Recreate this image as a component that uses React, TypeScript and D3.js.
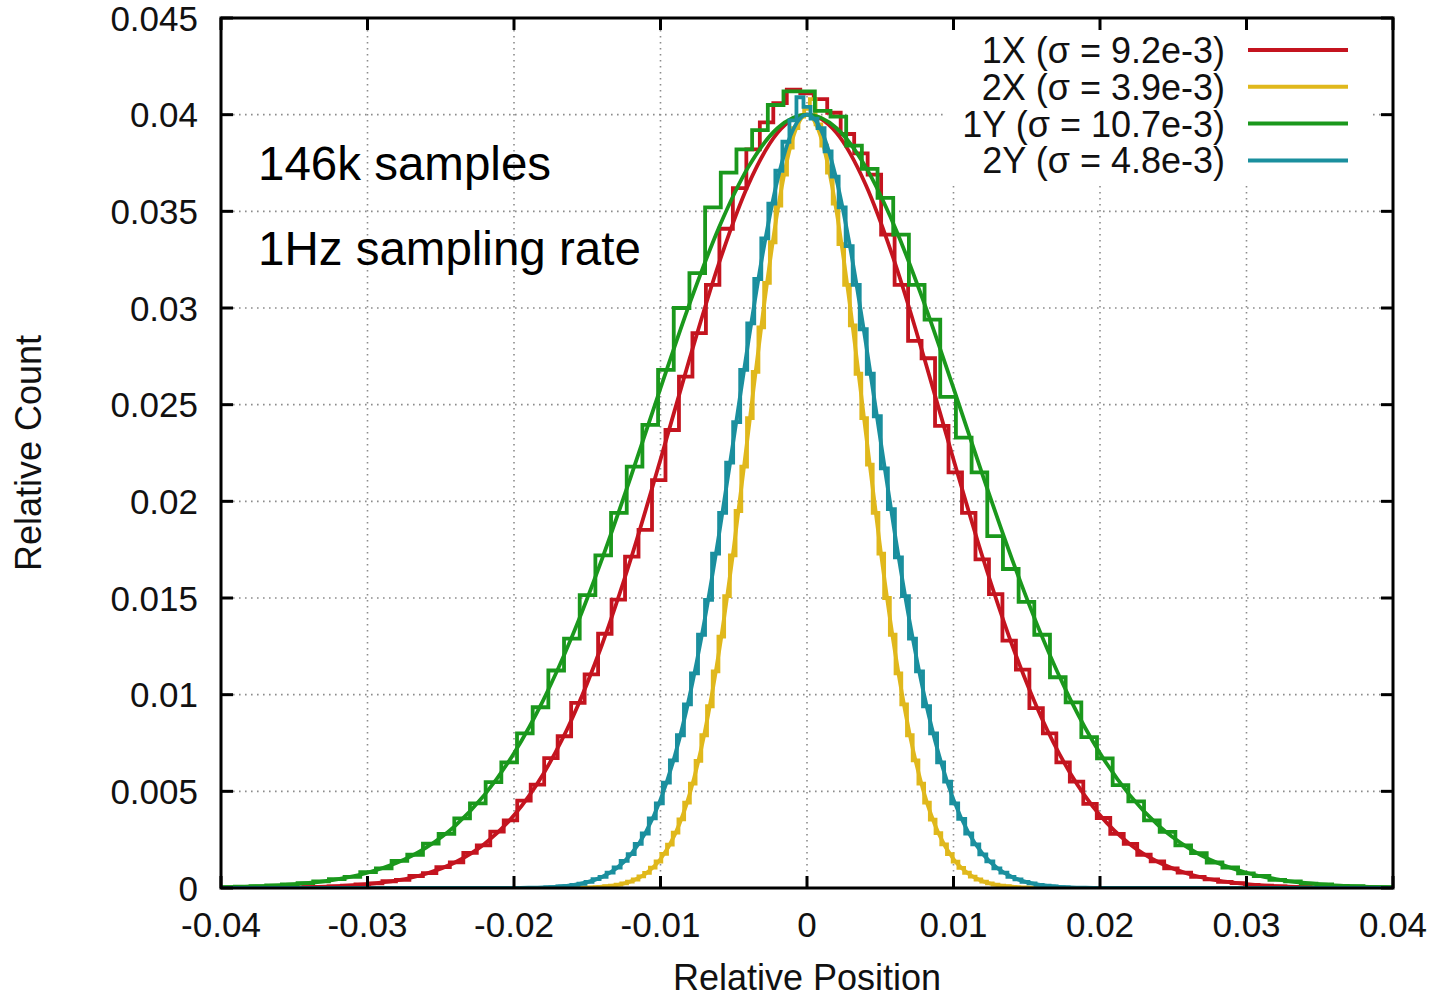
import React from "react";
import * as d3 from "d3";

const W = 1440;
const H = 998;
const PLOT = { left: 221, right: 1393, top: 18, bottom: 888 };

const X_TICKS = [-0.04, -0.03, -0.02, -0.01, 0, 0.01, 0.02, 0.03, 0.04];
const X_TICK_LABELS = ["-0.04", "-0.03", "-0.02", "-0.01", "0", "0.01", "0.02", "0.03", "0.04"];
const Y_TICKS = [0, 0.005, 0.01, 0.015, 0.02, 0.025, 0.03, 0.035, 0.04, 0.045];
const Y_TICK_LABELS = ["0", "0.005", "0.01", "0.015", "0.02", "0.025", "0.03", "0.035", "0.04", "0.045"];

const SERIES_NAMES = ["1X (σ = 9.2e-3)", "2X (σ = 3.9e-3)", "1Y (σ = 10.7e-3)", "2Y (σ = 4.8e-3)"];
const ANNOTATIONS = ["146k samples", "1Hz sampling rate"];

// histogram bin widths; bins are centred on 0, first bin index below
const BIN_WIDTHS = [0.00092, 0.00039, 0.00107, 0.00048];
const FIRST_BIN = -37;

const HIST_1X = [
  0.00004, 0.00006, 0.00008, 0.00012, 0.00018, 0.00024, 0.00035, 0.00042, 0.00062, 0.00077,
  0.00108, 0.00133, 0.00182, 0.0022, 0.00292, 0.0035, 0.00452, 0.00535, 0.00672, 0.00785,
  0.00958, 0.01105, 0.01315, 0.01492, 0.01714, 0.01852, 0.0211, 0.02369, 0.02645, 0.0287,
  0.0312, 0.0341, 0.0362, 0.0382, 0.0396, 0.0406, 0.0413,
  0.0411,
  0.0408, 0.0401, 0.039, 0.038, 0.0369, 0.0338, 0.0312, 0.0283, 0.0274, 0.0239,
  0.0215, 0.0194, 0.017, 0.0152, 0.0128, 0.0113, 0.0093, 0.008, 0.0065, 0.0055,
  0.00435, 0.00362, 0.0028, 0.00228, 0.00172, 0.00138, 0.00102, 0.0008, 0.00058, 0.00045,
  0.00032, 0.00025, 0.00016, 0.00012, 0.00008, 0.00006, 0.00004,
];
const HIST_2X = [
  0.00003, 0.00006, 0.00009, 0.00012, 0.00017, 0.00024, 0.00033, 0.00044, 0.0006, 0.00078,
  0.00105, 0.00137, 0.00176, 0.00224, 0.00286, 0.00355, 0.00442, 0.0054, 0.00658, 0.0079,
  0.0094, 0.0112, 0.013, 0.0151, 0.0172, 0.0195, 0.0218, 0.0243, 0.0267, 0.029,
  0.0313, 0.0334, 0.0353, 0.0369, 0.0383, 0.0393, 0.0399,
  0.0403,
  0.0408, 0.0395, 0.0384, 0.037, 0.0354, 0.0333, 0.0312, 0.0291, 0.0266, 0.0243,
  0.0219, 0.0194, 0.0173, 0.015, 0.0131, 0.0111, 0.0095, 0.0079, 0.0066, 0.0054,
  0.00442, 0.00354, 0.00284, 0.00226, 0.00175, 0.00136, 0.00104, 0.00079, 0.00059, 0.00044,
  0.00033, 0.00024, 0.00017, 0.00012, 0.00009, 0.00005, 0.00003,
];
const HIST_1Y = [
  0.00004, 0.00007, 0.00009, 0.00013, 0.00018, 0.00025, 0.00034, 0.00046, 0.00058, 0.00082,
  0.00101, 0.0014, 0.00172, 0.0023, 0.0028, 0.0036, 0.00438, 0.00548, 0.0065, 0.008,
  0.00935, 0.01125, 0.0129, 0.01515, 0.0172, 0.0194, 0.0218, 0.02395, 0.0268, 0.03,
  0.0318, 0.0352, 0.037, 0.0382, 0.0392, 0.0405, 0.0412,
  0.0412,
  0.0402, 0.0399, 0.0384, 0.0372, 0.0357, 0.0338, 0.0312, 0.0294, 0.0254, 0.0233,
  0.0215, 0.0182, 0.0165, 0.0148, 0.0131, 0.0109, 0.0096, 0.0078, 0.0067, 0.00532,
  0.00448, 0.0035, 0.0029, 0.0022, 0.0018, 0.00132, 0.00106, 0.00076, 0.00062, 0.00042,
  0.00034, 0.00023, 0.00018, 0.00011, 0.00009, 0.00005, 0.00004,
];
const HIST_2Y = [
  0.00003, 0.00005, 0.00008, 0.0001, 0.00016, 0.00022, 0.00032, 0.00046, 0.00058, 0.0008,
  0.00106, 0.0014, 0.00175, 0.00228, 0.00282, 0.0036, 0.00438, 0.00545, 0.0066, 0.0079,
  0.0095, 0.0111, 0.0131, 0.0149, 0.0173, 0.0194, 0.022, 0.0241, 0.0268, 0.0292,
  0.0315, 0.0336, 0.0354, 0.0371, 0.0386, 0.0397, 0.0409,
  0.0404,
  0.0398, 0.0393, 0.0381, 0.0368, 0.0352, 0.0332, 0.0312, 0.0289, 0.0266, 0.0244,
  0.0217, 0.0196, 0.0171, 0.0151, 0.0129, 0.0112, 0.0094, 0.008, 0.0065, 0.0055,
  0.00438, 0.00358, 0.00282, 0.00226, 0.00174, 0.00138, 0.00102, 0.0008, 0.00058, 0.00045,
  0.00032, 0.00024, 0.00016, 0.00012, 0.00008, 0.00005, 0.00003,
];

// fitted curves, sampled
const FIT_X_WIDE = [
  -0.04, -0.038, -0.036, -0.034, -0.032, -0.03, -0.028, -0.026, -0.024, -0.022,
  -0.02, -0.018, -0.016, -0.014, -0.012, -0.01, -0.008, -0.006, -0.004, -0.002,
  0,
  0.002, 0.004, 0.006, 0.008, 0.01, 0.012, 0.014, 0.016, 0.018, 0.02,
  0.022, 0.024, 0.026, 0.028, 0.03, 0.032, 0.034, 0.036, 0.038, 0.04,
];
const FIT_1X = [
  0.000003, 0.000008, 0.000019, 0.000043, 0.000094, 0.0002, 0.00039, 0.00074, 0.00133, 0.00229,
  0.00376, 0.0059, 0.00882, 0.01257, 0.01708, 0.02216, 0.02741, 0.03234, 0.03639, 0.03907,
  0.04,
  0.03907, 0.03639, 0.03234, 0.02741, 0.02216, 0.01708, 0.01257, 0.00882, 0.0059, 0.00376,
  0.00229, 0.00133, 0.00074, 0.00039, 0.0002, 0.000094, 0.000043, 0.000019, 0.000008, 0.000003,
];
const FIT_1Y = [
  0.000037, 0.000073, 0.00014, 0.00026, 0.00046, 0.00079, 0.0013, 0.00209, 0.00323, 0.00483,
  0.00697, 0.00972, 0.01308, 0.017, 0.02133, 0.02585, 0.03025, 0.03418, 0.0373, 0.03931,
  0.04,
  0.03931, 0.0373, 0.03418, 0.03025, 0.02585, 0.02133, 0.017, 0.01308, 0.00972, 0.00697,
  0.00483, 0.00323, 0.00209, 0.0013, 0.00079, 0.00046, 0.00026, 0.00014, 0.000073, 0.000037,
];
const FIT_X_NARROW = [
  -0.04,
  -0.02, -0.019, -0.018, -0.017, -0.016, -0.015, -0.014, -0.013, -0.012, -0.011,
  -0.01, -0.009, -0.008, -0.007, -0.006, -0.005, -0.004, -0.003, -0.002, -0.001,
  0,
  0.001, 0.002, 0.003, 0.004, 0.005, 0.006, 0.007, 0.008, 0.009, 0.01,
  0.011, 0.012, 0.013, 0.014, 0.015, 0.016, 0.017, 0.018, 0.019, 0.02,
  0.04,
];
const FIT_2X = [
  0,
  0, 0, 0, 0.000001, 0.000009, 0.000025, 0.000064, 0.00015, 0.00035, 0.00075,
  0.00149, 0.00279, 0.00488, 0.00799, 0.01225, 0.01759, 0.02364, 0.02976, 0.03507, 0.03871,
  0.04,
  0.03871, 0.03507, 0.02976, 0.02364, 0.01759, 0.01225, 0.00799, 0.00488, 0.00279, 0.00149,
  0.00075, 0.00035, 0.00015, 0.000064, 0.000025, 0.000009, 0.000001, 0, 0, 0,
  0,
];
const FIT_2Y = [
  0,
  0.000007, 0.000016, 0.000035, 0.000075, 0.00015, 0.0003, 0.00057, 0.00102, 0.00176, 0.00289,
  0.00457, 0.0069, 0.00997, 0.01381, 0.01831, 0.02325, 0.02827, 0.0329, 0.03667, 0.03914,
  0.04,
  0.03914, 0.03667, 0.0329, 0.02827, 0.02325, 0.01831, 0.01381, 0.00997, 0.0069, 0.00457,
  0.00289, 0.00176, 0.00102, 0.00057, 0.0003, 0.00015, 0.000075, 0.000035, 0.000016, 0.000007,
  0,
];

const HISTS = [HIST_1X, HIST_2X, HIST_1Y, HIST_2Y];
const FITS = [
  { xs: FIT_X_WIDE, ys: FIT_1X },
  { xs: FIT_X_NARROW, ys: FIT_2X },
  { xs: FIT_X_WIDE, ys: FIT_1Y },
  { xs: FIT_X_NARROW, ys: FIT_2Y },
];

const COLORS = ["#c4141f", "#e0b81c", "#1a981c", "#1a8f9e"];
const FONT = "'Liberation Sans', Arial, Helvetica, sans-serif";

export default function App() {
  const x = d3.scaleLinear().domain([-0.04, 0.04]).range([PLOT.left, PLOT.right]);
  const y = d3.scaleLinear().domain([0, 0.045]).range([PLOT.bottom, PLOT.top]);

  const stepLine = d3
    .line<[number, number]>()
    .x((d) => x(d[0]))
    .y((d) => y(d[1]))
    .curve(d3.curveStepAfter);
  const smoothLine = d3
    .line<[number, number]>()
    .x((d) => x(d[0]))
    .y((d) => y(d[1]))
    .curve(d3.curveMonotoneX);

  const histPath = (vals: number[], w: number) => {
    const pts: [number, number][] = vals.map((v, i) => [(FIRST_BIN + i - 0.5) * w, v]);
    pts.push([(FIRST_BIN + vals.length - 0.5) * w, vals[vals.length - 1]]);
    return stepLine(pts) || "";
  };
  const fitPath = (xs: number[], ys: number[]) =>
    smoothLine(xs.map((v, i) => [v, ys[i]] as [number, number])) || "";

  const tickLen = 12;
  const legendX = 1225;
  const legendY0 = 50;
  const legendDy = 36.8;

  return (
    <svg
      width={W}
      height={H}
      viewBox={`0 0 ${W} ${H}`}
      style={{ position: "absolute", left: 0, top: 0, background: "#fff" }}
      fontFamily={FONT}
    >
      <defs>
        <clipPath id="plotClip">
          <rect x={PLOT.left} y={PLOT.top} width={PLOT.right - PLOT.left} height={PLOT.bottom - PLOT.top} />
        </clipPath>
      </defs>
      <rect x={0} y={0} width={W} height={H} fill="#fff" />

      {/* grid */}
      <g stroke="#8c8c8c" strokeWidth={1.6} strokeDasharray="1.6,4.4">
        {X_TICKS.slice(1, -1).map((t) => (
          <line key={"gx" + t} x1={x(t)} x2={x(t)} y1={PLOT.top} y2={PLOT.bottom} />
        ))}
        {Y_TICKS.slice(1, -1).map((t) => (
          <line key={"gy" + t} x1={PLOT.left} x2={PLOT.right} y1={y(t)} y2={y(t)} />
        ))}
      </g>

      {/* key background */}
      <rect x={945} y={27} width={427} height={155} fill="#fff" />

      {/* data */}
      <g clipPath="url(#plotClip)" fill="none" strokeLinejoin="miter">
        {HISTS.map((h, i) => (
          <g key={"s" + i}>
            <path d={histPath(h, BIN_WIDTHS[i])} stroke={COLORS[i]} strokeWidth={3.8} />
            <path d={fitPath(FITS[i].xs, FITS[i].ys)} stroke={COLORS[i]} strokeWidth={3.8} />
          </g>
        ))}
      </g>

      {/* border */}
      <rect
        x={PLOT.left}
        y={PLOT.top}
        width={PLOT.right - PLOT.left}
        height={PLOT.bottom - PLOT.top}
        fill="none"
        stroke="#000"
        strokeWidth={3}
      />

      {/* ticks */}
      <g stroke="#000" strokeWidth={3}>
        {X_TICKS.map((t) => (
          <g key={"tx" + t}>
            <line x1={x(t)} x2={x(t)} y1={PLOT.bottom} y2={PLOT.bottom - tickLen} />
            <line x1={x(t)} x2={x(t)} y1={PLOT.top} y2={PLOT.top + tickLen} />
          </g>
        ))}
        {Y_TICKS.map((t) => (
          <g key={"ty" + t}>
            <line x1={PLOT.left} x2={PLOT.left + tickLen} y1={y(t)} y2={y(t)} />
            <line x1={PLOT.right} x2={PLOT.right - tickLen} y1={y(t)} y2={y(t)} />
          </g>
        ))}
      </g>

      {/* tick labels */}
      <g fontSize={35} fill="#111">
        {X_TICKS.map((t, i) => (
          <text key={"lx" + t} x={x(t)} y={937} textAnchor="middle">
            {X_TICK_LABELS[i]}
          </text>
        ))}
        {Y_TICKS.map((t, i) => (
          <text key={"ly" + t} x={198} y={y(t)} dy="0.36em" textAnchor="end">
            {Y_TICK_LABELS[i]}
          </text>
        ))}
      </g>

      {/* axis titles */}
      <text x={807} y={990} fontSize={36} textAnchor="middle" fill="#111">
        Relative Position
      </text>
      <text
        transform={`translate(41,453) rotate(-90)`}
        fontSize={36}
        textAnchor="middle"
        fill="#111"
      >
        Relative Count
      </text>

      {/* legend */}
      <g fontSize={36} fill="#111">
        {SERIES_NAMES.map((n, i) => (
          <g key={"lg" + i}>
            <text x={legendX} y={legendY0 + i * legendDy} dy="0.36em" textAnchor="end">
              {n}
            </text>
            <line
              x1={1248}
              x2={1348}
              y1={legendY0 + i * legendDy}
              y2={legendY0 + i * legendDy}
              stroke={COLORS[i]}
              strokeWidth={4}
            />
          </g>
        ))}
      </g>

      {/* annotations */}
      <g fontSize={47.5} fill="#000">
        <text x={258} y={180}>{ANNOTATIONS[0]}</text>
        <text x={258} y={265}>{ANNOTATIONS[1]}</text>
      </g>
    </svg>
  );
}
